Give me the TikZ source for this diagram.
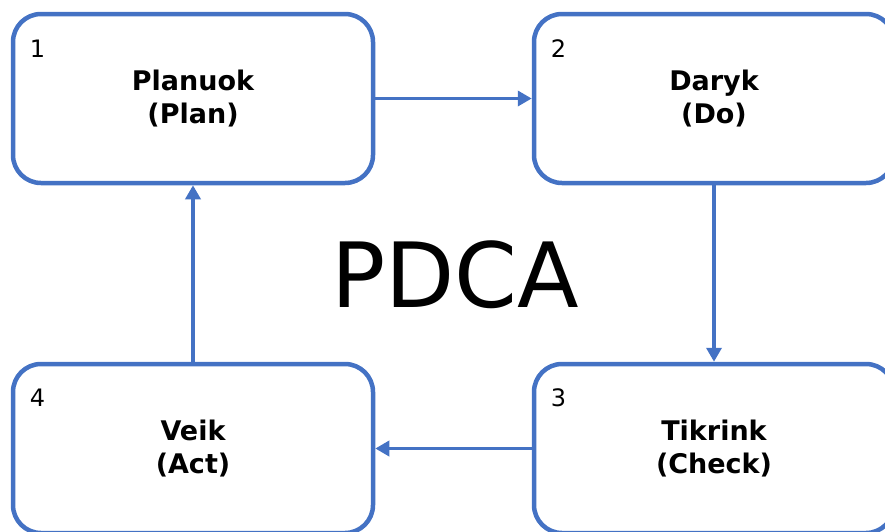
\documentclass[tikz,border=0pt]{standalone}
\usepackage{fontspec}
\setmainfont{DejaVu Sans}
\usepackage{xcolor}
\usepackage{tikz}
\usetikzlibrary{positioning,arrows.meta}
\definecolor{pdcablue}{HTML}{4472C4}
\tikzset{
stage/.style={draw=pdcablue, line width=4.5pt, rounded corners=28pt, fill=white,
  minimum width=360pt, minimum height=169pt, align=center,
  font=\bfseries\fontsize{27}{33}\selectfont},
stagenum/.style={anchor=base west, inner sep=0pt, font=\fontsize{24}{28}\selectfont},
flow/.style={draw=pdcablue, line width=3.5pt, -{Triangle[length=14pt,width=15pt]}}
}

\begin{document}
\begin{tikzpicture}[x=1pt,y=-1pt]
\clip (0,0) rectangle (885,531);
\node[stage] (plan) at (193,98.5) {Planuok\\(Plan)};
\node[stage] (do) at (714,98.5) {Daryk\\(Do)};
\node[stage] (check) at (714,448.5) {Tikrink\\(Check)};
\node[stage] (act) at (193,448.5) {Veik\\(Act)};
\node[stagenum] (n1) at ([xshift=19pt,yshift=-46pt]plan.north west) {1};
\node[stagenum] (n2) at ([xshift=19pt,yshift=-46pt]do.north west) {2};
\node[stagenum] (n3) at ([xshift=19pt,yshift=-45pt]check.north west) {3};
\node[stagenum] (n4) at ([xshift=19pt,yshift=-45pt]act.north west) {4};
\node[font=\fontsize{90}{90}\selectfont] (pdca) at (455,275) {PDCA};
\draw[flow] (plan) -- (do);
\draw[flow] (do) -- (check);
\draw[flow] (check) -- (act);
\draw[flow] (act) -- (plan);
\end{tikzpicture}
\end{document}
